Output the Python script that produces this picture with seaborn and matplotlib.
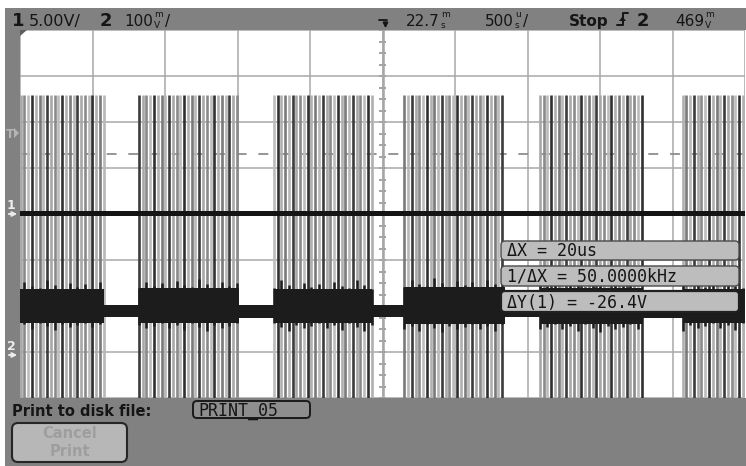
import numpy as np
import matplotlib
matplotlib.use("Agg")
import matplotlib.pyplot as plt
from matplotlib.patches import Rectangle, FancyBboxPatch, Polygon
import seaborn as sns

# ─────────────────────────────────────────
# DATA  (screen divisions: x 0..10, y -4..+4)
# ─────────────────────────────────────────
burst_start = [-0.25, 1.64, 3.50, 5.30, 7.17, 9.14]
burst_end   = [1.16, 3.02, 4.86, 6.69, 8.59, 10.30]
spike_pitch = 0.052          # ~20 us carrier as it shows on screen
spike_top   = 2.59
spike_shades = ["#303030", "#b0b0b0", "#7a7a7a", "#b8b8b8",
                "#3c3c3c", "#a8a8a8", "#8a8a8a", "#bcbcbc"]
# how far dark spikes poke out of the ch2 band (up, down)
poke_up   = [0.04, 0.10, 0.0, 0.14, 0.06, 0.02, 0.18, 0.08, 0.0, 0.12]
poke_down = [0.06, 0.0, 0.10, 0.04, 0.14, 0.0, 0.08, 0.16, 0.03, 0.09]

# ch2 noise band envelope (during bursts / in gaps)
burst_hi = [-1.62, -1.60, -1.62, -1.58, -1.60, -1.62]
burst_lo = [-2.36, -2.38, -2.38, -2.40, -2.40, -2.38]
gap_hi   = [-1.97, -1.98, -1.97, -1.96, -1.97]
gap_lo   = [-2.24, -2.25, -2.23, -2.24, -2.25]

# ch1 flat trace
ch1_x = [0.0, 10.0]
ch1_y = [0.02, 0.02]

trig_level = 1.30
center_x   = 5.0

meas_labels = ["\u0394X = 20us", "1/\u0394X = 50.0000kHz", "\u0394Y(1) = -26.4V"]

# ─────────────────────────────────────────
# FIGURE
# ─────────────────────────────────────────
sns.set_style("white")
plt.rcParams["font.family"] = ["DejaVu Sans"]
W, H = 746, 466
fig = plt.figure(figsize=(W / 100, H / 100), dpi=100)
fig.patch.set_facecolor("white")

GRAY = "#818181"

# background panels (pixel coords)
ax_bg = fig.add_axes([0, 0, 1, 1], zorder=0)
ax_bg.set_xlim(0, W); ax_bg.set_ylim(H, 0); ax_bg.axis("off")
ax_bg.add_patch(Rectangle((5, 8), W - 5, 22, color=GRAY, lw=0))
ax_bg.add_patch(Rectangle((5, 8), 15, 392, color=GRAY, lw=0))
ax_bg.add_patch(Rectangle((5, 398), W - 5, H - 398, color=GRAY, lw=0))

# main scope screen
ax = fig.add_axes([20 / W, (H - 398) / H, 725 / W, 368 / H], zorder=1)
ax.set_facecolor("white")
ax.set_xlim(0, 10); ax.set_ylim(-4, 4)
ax.set_xticks(range(11)); ax.set_yticks(range(-4, 5))
ax.grid(True, color="#a8a8a8", lw=1.1)
ax.set_axisbelow(True)
ax.tick_params(length=0, labelbottom=False, labelleft=False)
for s in ax.spines.values():
    s.set_visible(False)

# center graticule with minor ticks
ax.axvline(center_x, color="#a4a4a4", lw=1.8, zorder=0.5)
minor = np.arange(-4, 4.01, 0.25)
ax.hlines(minor, center_x - 0.05, center_x + 0.05, color="#9c9c9c", lw=1.3, zorder=0.5)

# ch2 noise band
bx, bh, bl = [], [], []
for i, (b0, b1) in enumerate(zip(burst_start, burst_end)):
    if i > 0:
        bx += [burst_end[i - 1], b0]
        bh += [gap_hi[i - 1], gap_hi[i - 1]]
        bl += [gap_lo[i - 1], gap_lo[i - 1]]
    bx += [b0, b1]
    bh += [burst_hi[i], burst_hi[i]]
    bl += [burst_lo[i], burst_lo[i]]
ax.fill_between(bx, bl, bh, color="#1c1c1c", lw=0, zorder=3)

# ch2 bursts: vertical spikes
k = 0
for i, (b0, b1) in enumerate(zip(burst_start, burst_end)):
    xs = np.arange(b0, b1, spike_pitch)
    cols = [spike_shades[(k + j) % len(spike_shades)] for j in range(len(xs))]
    ax.vlines(xs, -4, spike_top, colors=cols, lw=1.9, zorder=2)
    # dark parts of the spikes that stick out of the band
    dark = xs[::2]
    up = [burst_hi[i] + poke_up[(k + j) % len(poke_up)] for j in range(len(dark))]
    dn = [burst_lo[i] - poke_down[(k + j) % len(poke_down)] for j in range(len(dark))]
    ax.vlines(dark, dn, up, colors="#1c1c1c", lw=1.8, zorder=3)
    k += len(xs)

# trigger level
ax.axhline(trig_level, color="#8e8e8e", lw=1.3, dashes=(5.5, 6.5), zorder=1.5)

# ch1 trace
sns.lineplot(x=ch1_x, y=ch1_y, color="#141414", lw=3.6, ax=ax, zorder=4)

# ─────────────────────────────────────────
# OVERLAY: annotations / softkeys
# ─────────────────────────────────────────
ov = fig.add_axes([0, 0, 1, 1], zorder=3)
ov.set_xlim(0, W); ov.set_ylim(H, 0); ov.axis("off")
ov.patch.set_alpha(0)
renderer = fig.canvas.get_renderer()

TXT = "#151515"
def right_px(t):
    bb = t.get_window_extent(renderer=renderer)
    return ov.transData.inverted().transform((bb.x1, bb.y0))[0]

def readout(x, num, top, bot, slash=False, size=11):
    t = ov.text(x, 26, num, fontsize=size, color=TXT, va="baseline")
    xr = right_px(t) + 1
    t1 = ov.text(xr, 17, top, fontsize=6.5, color=TXT, ha="left", va="baseline")
    t2 = ov.text(xr, 27.5, bot, fontsize=6.5, color=TXT, ha="left", va="baseline")
    if slash:
        xs_ = max(right_px(t1), right_px(t2)) + 2
        ov.text(xs_, 26, "/", fontsize=size, color=TXT, va="baseline")

ov.text(12, 26.5, "1", fontsize=13, fontweight="bold", color=TXT, va="baseline")
ov.text(29, 26, "5.00V/", fontsize=11.5, color=TXT, va="baseline")
ov.text(100, 26.5, "2", fontsize=13, fontweight="bold", color=TXT, va="baseline")
readout(124, "100", "m", "V", slash=True)

# trigger position marker
ov.plot([379, 386.5], [19.5, 19.5], color=TXT, lw=1.3)
ov.annotate("", xy=(385.5, 31), xytext=(385.5, 19.5),
            arrowprops=dict(arrowstyle="-|>", lw=1.3, color=TXT, mutation_scale=7))

readout(406, "22.7", "m", "s")
readout(485, "500", "u", "s", slash=True)
ov.text(569, 26, "Stop", fontsize=11, fontweight="bold", color=TXT, va="baseline")
# rising edge symbol
ov.plot([617, 622.5, 622.5, 628], [25, 25, 13, 13], color=TXT, lw=1.4)
ov.add_patch(Polygon([[619, 21], [626, 21], [622.5, 16.5]], closed=True, color=TXT, lw=0))
ov.text(637, 26.5, "2", fontsize=13, fontweight="bold", color=TXT, va="baseline")
readout(675, "469", "m", "V")

# corner mark
ov.add_patch(Polygon([[20, 30], [27, 30], [20, 36]], closed=True, color="#5e5e5e", lw=0))

# channel / trigger markers on left edge
LIGHT = "#ececec"
ov.text(7, 209, "1", fontsize=9, fontweight="bold", color=LIGHT, va="baseline")
ov.annotate("", xy=(20, 214), xytext=(6, 214),
            arrowprops=dict(arrowstyle="-|>", lw=1.3, color=LIGHT, mutation_scale=7))
ov.text(7, 350, "2", fontsize=9, fontweight="bold", color=LIGHT, va="baseline")
ov.annotate("", xy=(20, 355), xytext=(6, 355),
            arrowprops=dict(arrowstyle="-|>", lw=1.3, color=LIGHT, mutation_scale=7))
ov.text(6, 138, "T", fontsize=8.5, fontweight="bold", color="#b4b4b4", va="baseline")
ov.add_patch(Polygon([[14, 128], [14, 138], [19, 133]], closed=True, color="#b4b4b4", lw=0))

# measurement boxes
box_y = [241, 266, 291]
box_h = [19, 20, 21]
for i, (lab, y0, h) in enumerate(zip(meas_labels, box_y, box_h)):
    ov.add_patch(FancyBboxPatch((501, y0), 238, h,
                                boxstyle="round,pad=0,rounding_size=4",
                                fc="#bdbdbd", ec="#202020" if i == 2 else "#4a4a4a",
                                lw=1.6 if i == 2 else 1.0, zorder=5))
    ov.text(507, y0 + h - 4.5, lab, fontsize=12, color=TXT, va="baseline",
            family="DejaVu Sans Mono", zorder=6)

# bottom softkey area
ov.text(12, 416, "Print to disk file:", fontsize=10.5, fontweight="bold",
        color=TXT, va="baseline")
ov.add_patch(FancyBboxPatch((193, 401), 117, 17, boxstyle="round,pad=0,rounding_size=4",
                            fc="#8e8e8e", ec="#1a1a1a", lw=1.4))
ov.text(198, 415.5, "PRINT_05", fontsize=12, color=TXT, va="baseline",
        family="DejaVu Sans Mono")
ov.add_patch(FancyBboxPatch((12, 423), 115, 39, boxstyle="round,pad=0,rounding_size=6",
                            fc="#b7b7b7", ec="#262626", lw=1.5))
ov.text(70, 438, "Cancel", fontsize=10.5, fontweight="bold", color="#9e9e9e",
        ha="center", va="baseline")
ov.text(70, 456, "Print", fontsize=10.5, fontweight="bold", color="#9e9e9e",
        ha="center", va="baseline")

fig.savefig("out.png", dpi=100)
